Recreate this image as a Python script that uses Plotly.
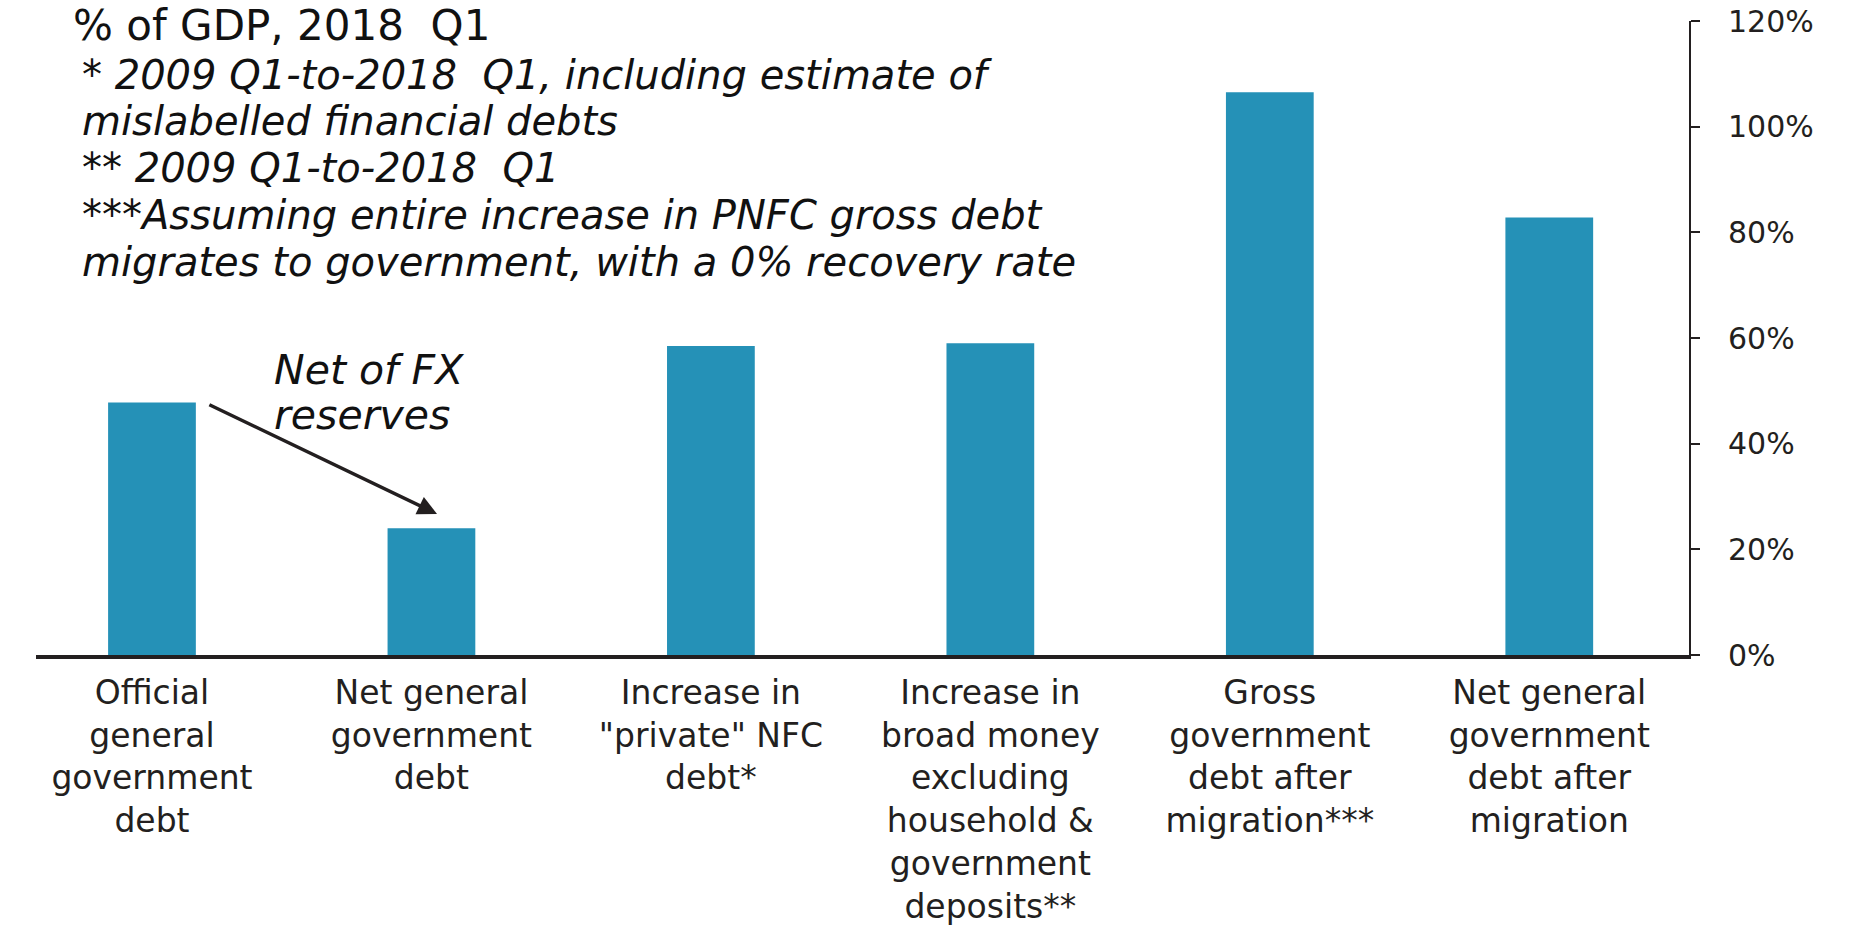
import plotly.graph_objects as go

# ---- data ----
categories = [
    "Official<br>general<br>government<br>debt",
    "Net general<br>government<br>debt",
    "Increase in<br>\"private\" NFC<br>debt*",
    "Increase in<br>broad money<br>excluding<br>household &amp;<br>government<br>deposits**",
    "Gross<br>government<br>debt after<br>migration***",
    "Net general<br>government<br>debt after<br>migration",
]
values = [47.8, 24.0, 58.5, 59.0, 106.5, 82.8]
y_tickvals = [0, 20, 40, 60, 80, 100, 120]
y_ticktext = ["0%", "20%", "40%", "60%", "80%", "100%", "120%"]

title_text = "% of GDP, 2018  Q1"
footnotes = [
    "* 2009 Q1-to-2018  Q1, including estimate of",
    "mislabelled financial debts",
    "** 2009 Q1-to-2018  Q1",
    "***Assuming entire increase in PNFC gross debt",
    "migrates to government, with a 0% recovery rate",
]
arrow_note = ["Net of FX", "reserves"]

# ---- layout geometry (pixels) ----
W, H = 1858, 926
L, R, T, B = 35.5, 1689, 21, 655

def px(x):
    return (x - L) / (R - L)

def py(y):
    return (B - y) / (B - T)

DARK = "#231f20"
BAR = "#2591b7"
FONT = "DejaVu Sans"

fig = go.Figure()
fig.add_trace(go.Bar(
    x=categories, y=values,
    marker=dict(color=BAR, line=dict(width=0)),
    hoverinfo="skip",
))

annotations = []
foot_y = [75, 121, 168, 215, 262]
for txt, yy in zip(footnotes, foot_y):
    annotations.append(dict(
        text=txt, xref="paper", yref="paper", x=px(80), y=py(yy),
        xanchor="left", yanchor="middle", showarrow=False,
        font=dict(family=FONT, size=40, color="#111111", style="italic"),
    ))

for txt, yy in zip(arrow_note, [370, 415]):
    annotations.append(dict(
        text=txt, xref="paper", yref="paper", x=px(272), y=py(yy),
        xanchor="left", yanchor="middle", showarrow=False,
        font=dict(family=FONT, size=41, color="#111111", style="italic"),
    ))

# arrow from first bar toward second
annotations.append(dict(
    text="", x=1.02, y=26.7, xref="x", yref="y",
    ax=0.2, ay=47.5, axref="x", ayref="y",
    showarrow=True, arrowhead=2, arrowsize=1.1, arrowwidth=3.5,
    arrowcolor=DARK, standoff=0,
))

fig.update_layout(
    width=W, height=H,
    margin=dict(l=L, r=W - R, t=T, b=H - B, autoexpand=False),
    paper_bgcolor="white", plot_bgcolor="white",
    showlegend=False,
    bargap=0.686,
    title=dict(
        text=title_text, x=73 / W, y=1 - 25 / H,
        xanchor="left", yanchor="middle", xref="container", yref="container",
        font=dict(family=FONT, size=42, color="#111111"),
    ),
    annotations=annotations,
    xaxis=dict(
        type="category", range=[-0.415, 5.5],
        showline=True, linewidth=4, linecolor=DARK,
        ticks="", tickangle=0, automargin=False,
        ticklabelstandoff=5,
        tickfont=dict(family=FONT, size=33, color=DARK),
        showgrid=False, zeroline=False, fixedrange=True,
    ),
    yaxis=dict(
        side="right", range=[0, 120],
        tickvals=y_tickvals, ticktext=y_ticktext,
        showline=True, linewidth=2, linecolor=DARK,
        ticks="outside", ticklen=9, tickwidth=2, tickcolor=DARK,
        ticklabelstandoff=22, automargin=False,
        tickfont=dict(family=FONT, size=30, color=DARK),
        showgrid=False, zeroline=False, fixedrange=True,
    ),
)

fig.write_html("out.html")
